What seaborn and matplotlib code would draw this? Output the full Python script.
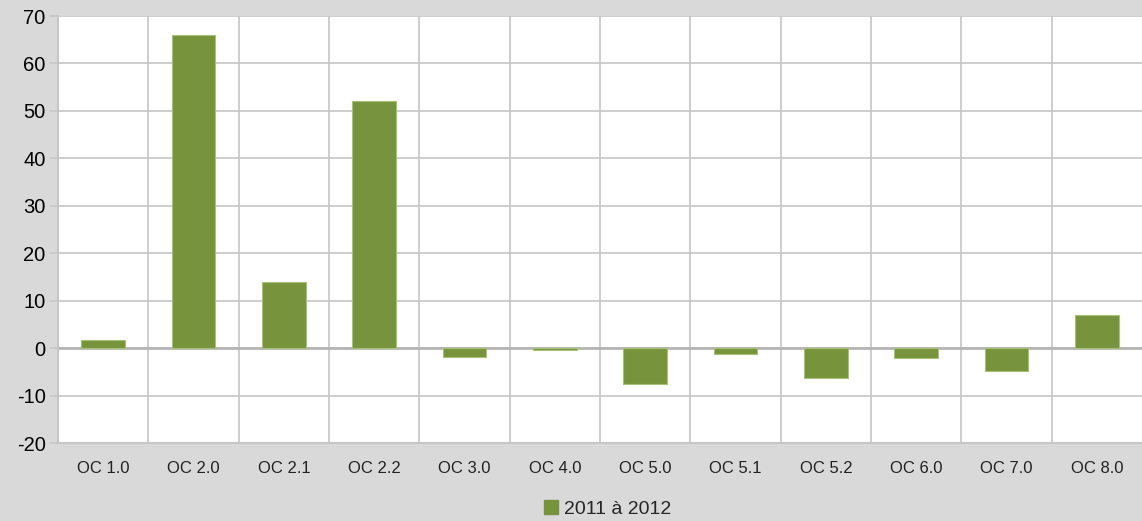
import matplotlib
matplotlib.use("Agg")
import matplotlib.pyplot as plt
import seaborn as sns
import pandas as pd
import numpy as np
from matplotlib.patches import Patch

categories = ["OC 1.0", "OC 2.0", "OC 2.1", "OC 2.2", "OC 3.0", "OC 4.0",
              "OC 5.0", "OC 5.1", "OC 5.2", "OC 6.0", "OC 7.0", "OC 8.0"]
values = [1.8, 66, 14, 52, -1.8, -0.3, -7.6, -1.2, -6.4, -2.1, -4.9, 7]
series_name = "2011 à 2012"
y_ticks = [-20, -10, 0, 10, 20, 30, 40, 50, 60, 70]

df = pd.DataFrame({"cat": categories, "val": values})

sns.set_theme(style="white")
plt.rcParams["font.family"] = ["Liberation Sans", "DejaVu Sans"]
plt.rcParams["axes.unicode_minus"] = False

bg = "#d9d9d9"
grid_c = "#c6c6c6"
bar_c = "#77933c"

fig = plt.figure(figsize=(11.42, 5.21), dpi=100, facecolor=bg)
ax = fig.add_axes([0.0508, 0.1497, 0.9492, 0.8195])
ax.set_facecolor("white")

sns.barplot(data=df, x="cat", y="val", color=bar_c, width=0.48,
            edgecolor="#a7c07a", linewidth=0.8, saturation=1, ax=ax, zorder=3)

n = len(categories)
ax.set_xlim(-0.5, n - 0.5)
ax.set_ylim(-20, 70)
ax.set_yticks(y_ticks)
ax.set_xticks(np.arange(n))
ax.set_xticklabels(categories)
ax.set_xticks(np.arange(0.5, n - 0.5, 1), minor=True)

ax.grid(axis="y", which="major", color=grid_c, linewidth=1.2, zorder=0)
ax.grid(axis="x", which="minor", color=grid_c, linewidth=1.2, zorder=0)
ax.grid(axis="x", which="major", visible=False)
ax.axhline(0, color="#b5b5b5", linewidth=2, zorder=2)

for side in ["top", "right"]:
    ax.spines[side].set_visible(False)
ax.spines["left"].set_color(grid_c)
ax.spines["left"].set_linewidth(1.5)
ax.spines["bottom"].set_color(grid_c)
ax.spines["bottom"].set_linewidth(1.5)

ax.tick_params(axis="y", which="major", length=6, width=1.2, color=grid_c,
               labelsize=14.5, labelcolor="black", pad=3, left=True)
ax.tick_params(axis="x", which="major", length=0, labelsize=12,
               labelcolor="#222222", pad=13)
ax.tick_params(axis="x", which="minor", length=0)
ax.set_xlabel("")
ax.set_ylabel("")

handle = Patch(facecolor=bar_c, edgecolor=bar_c, label=series_name)
leg = fig.legend(handles=[handle], loc="lower center", bbox_to_anchor=(0.532, -0.028),
                 frameon=False, fontsize=14, handlelength=0.7, handleheight=0.7,
                 handletextpad=0.3)

fig.savefig("out.png", dpi=100, facecolor=bg)
